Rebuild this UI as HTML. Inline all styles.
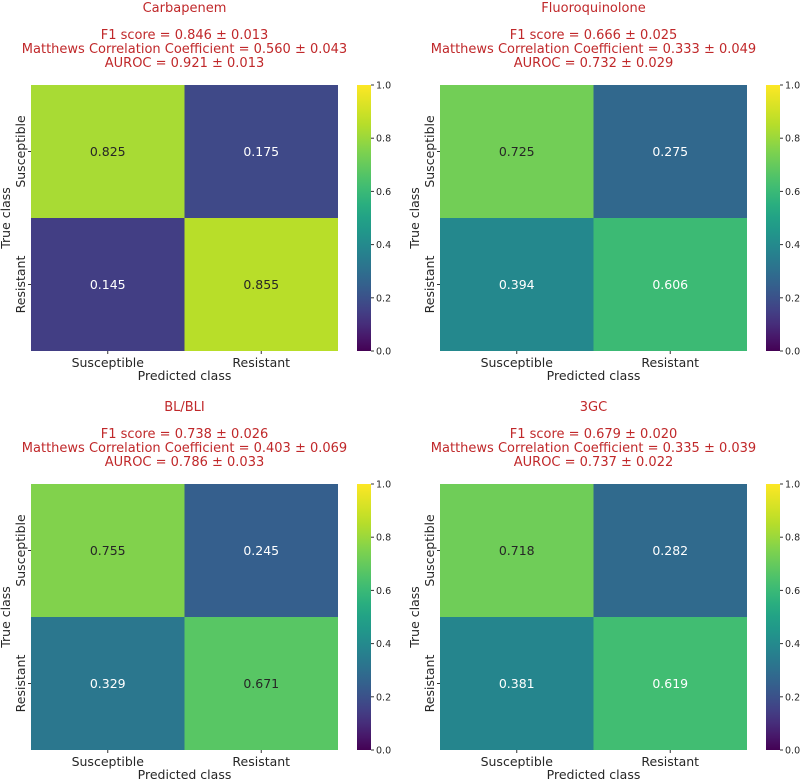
<!DOCTYPE html>
<html><head><meta charset="utf-8"><style>
body{margin:0;background:#fff;}
svg{display:block;font-family:"DejaVu Sans","Liberation Sans",sans-serif;}
</style></head><body>
<svg id="c" width="800" height="779" viewBox="0 0 800 779"></svg>
<script>
const titles=["Carbapenem","Fluoroquinolone","BL/BLI","3GC"];
const f1=["0.846 ± 0.013","0.666 ± 0.025","0.738 ± 0.026","0.679 ± 0.020"];
const mcc=["0.560 ± 0.043","0.333 ± 0.049","0.403 ± 0.069","0.335 ± 0.039"];
const auroc=["0.921 ± 0.013","0.732 ± 0.029","0.786 ± 0.033","0.737 ± 0.022"];
const cm0=[0.825,0.175,0.145,0.855];
const cm1=[0.725,0.275,0.394,0.606];
const cm2=[0.755,0.245,0.329,0.671];
const cm3=[0.718,0.282,0.381,0.619];
const classes=["Susceptible","Resistant"];
const cbTicks=[0,0.2,0.4,0.6,0.8,1.0];

const V=[[68,1,84],[72,36,117],[65,68,135],[53,95,141],[42,120,142],[33,145,140],[34,168,132],[68,191,112],[122,209,81],[189,223,38],[253,231,37]];
function viridis(t){t=Math.max(0,Math.min(1,t));t=t+0.3*t*(1-t);t*=10;const i=Math.min(9,Math.floor(t)),f=t-i;const a=V[i],b=V[i+1];
return `rgb(${a.map((v,k)=>Math.round(v+(b[k]-v)*f)).join(",")})`;}
const NS="http://www.w3.org/2000/svg";
const svg=document.getElementById("c");
function el(tag,attrs,parent,text){const e=document.createElementNS(NS,tag);for(const k in attrs)e.setAttribute(k,attrs[k]);if(text!==undefined)e.textContent=text;(parent||svg).appendChild(e);return e;}
const defs=el("defs",{});
const grad=el("linearGradient",{id:"vg",x1:0,y1:1,x2:0,y2:0},defs);
for(let i=0;i<=20;i++)el("stop",{offset:i/20,"stop-color":viridis(i/20)},grad);
const cms=[cm0,cm1,cm2,cm3];
const offs=[[0,0],[409,0],[0,399],[409,399]];
const W=307,H=266,HX=31,HY=85,CBX=357,CBW=14;
for(let p=0;p<4;p++){
  const [ox,oy]=offs[p];
  const g=el("g",{transform:`translate(${ox},${oy})`});
  
  
  const cx=HX+W/2;
  let t=el("text",{x:cx,y:12,"text-anchor":"middle","font-size":13,fill:"#c0282a"},g,titles[p]);
  
  const lines=["F1 score = "+f1[p],"Matthews Correlation Coefficient = "+mcc[p],"AUROC = "+auroc[p]];
  lines.forEach((s,i)=>{const m=el("text",{x:cx,y:39+i*14,"text-anchor":"middle","font-size":13,fill:"#c0282a"},g,s);
    });
  const cm=cms[p];
  const xs=c=>HX+c*W/2, ys=r=>HY+r*H/2;
  for(let r=0;r<2;r++)for(let c=0;c<2;c++){
    const v=cm[r*2+c];
    const rc=el("rect",{x:xs(c),y:ys(r),width:W/2,height:H/2,fill:viridis(v)},g);
    
    
    const tx=el("text",{x:xs(c)+W/4,y:ys(r)+H/4+4.5,"text-anchor":"middle","font-size":12.5,fill:v>0.65?"#262626":"#ffffff"},g,v.toFixed(3));
    
  }
  classes.forEach((c,i)=>{
    const x=xs(i)+W/4;
    el("line",{x1:x,y1:HY+H,x2:x,y2:HY+H+3,stroke:"#333"},g);
    const a=el("text",{x:x,y:HY+H+16,"text-anchor":"middle","font-size":12.5,fill:"#262626"},g,c);
    
    const y=ys(i)+H/4;
    el("line",{x1:HX-3,y1:y,x2:HX,y2:y,stroke:"#333"},g);
    const b=el("text",{x:0,y:0,"text-anchor":"middle","font-size":12.5,fill:"#262626",transform:`translate(25,${y}) rotate(-90)`},g,c);
    
  });
  let xl=el("text",{x:cx,y:HY+H+29,"text-anchor":"middle","font-size":12.5,fill:"#262626"},g,"Predicted class");
  
  let yl=el("text",{x:0,y:0,"text-anchor":"middle","font-size":12.5,fill:"#262626",transform:`translate(10,${HY+H/2}) rotate(-90)`},g,"True class");
  
  const cb=el("rect",{x:CBX,y:HY,width:CBW,height:H,fill:"url(#vg)"},g);
  
  cbTicks.forEach(v=>{const y=HY+H-v*H;
    el("line",{x1:CBX+CBW,y1:y,x2:CBX+CBW+3,y2:y,stroke:"#333"},g);
    const l=el("text",{x:CBX+CBW+5,y:y+3.5,"font-size":9.5,fill:"#262626"},g,v.toFixed(1));
    });
}
</script>
</body></html>
